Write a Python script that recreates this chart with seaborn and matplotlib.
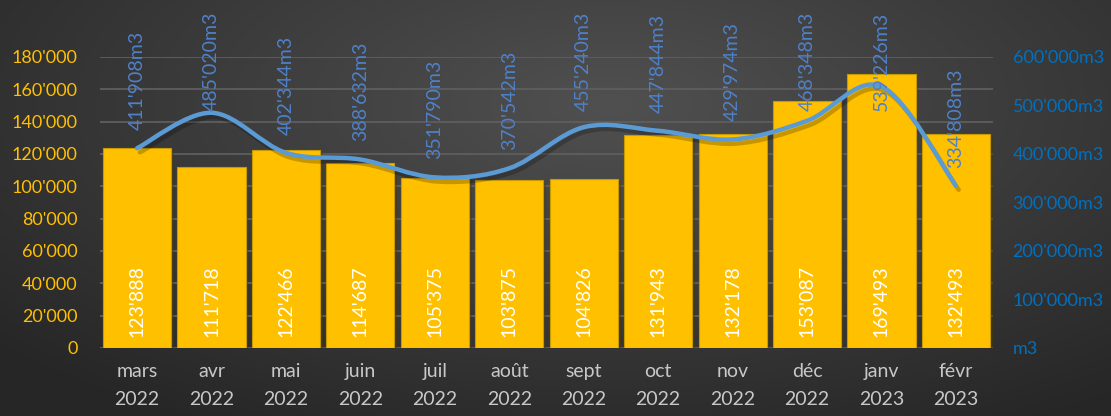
import numpy as np
import matplotlib
matplotlib.use("Agg")
import matplotlib.pyplot as plt
import matplotlib.patheffects as pe
from matplotlib.path import Path
from matplotlib.patches import PathPatch
import pandas as pd
import seaborn as sns

# data
months = ["mars\n2022", "avr\n2022", "mai\n2022", "juin\n2022", "juil\n2022", "août\n2022",
          "sept\n2022", "oct\n2022", "nov\n2022", "déc\n2022", "janv\n2023", "févr\n2023"]
bar_values = [123888, 111718, 122466, 114687, 105375, 103875, 104826, 131943, 132178, 153087, 169493, 132493]
volume_m3 = [411908, 485020, 402344, 388632, 351790, 370542, 455240, 447844, 429974, 468348, 539226, 334808]
left_ticks = list(range(0, 180001, 20000))
right_ticks = list(range(0, 600001, 100000))

sns.set_style("dark")
plt.rcParams['font.family'] = ['Lato', 'DejaVu Sans']


def swiss(v):
    return f"{int(v):,}".replace(",", "'")


fig = plt.figure(figsize=(11.11, 4.16), dpi=100)

# dark gradient background
bg = fig.add_axes([0, 0, 1, 1], zorder=-10)
gx, gy = np.meshgrid(np.linspace(0, 1, 400), np.linspace(0, 1, 200))
r = np.sqrt(((gx - 0.55) / 0.75) ** 2 + ((gy - 0.25) / 0.9) ** 2)
bg.imshow(np.clip(r, 0, 1), cmap=matplotlib.colors.LinearSegmentedColormap.from_list(
    "g", ["#505050", "#262626"]), aspect="auto", extent=[0, 1, 0, 1], origin="upper")
bg.axis("off")

ax = fig.add_axes([0.0899, 0.1635, 0.8040, 0.6995])
ax.patch.set_alpha(0)

df = pd.DataFrame({"mois": months, "valeur": bar_values})
sns.barplot(data=df, x="mois", y="valeur", color="#ffc000", saturation=1, width=0.915,
            edgecolor="#c99a00", linewidth=0.8, ax=ax, zorder=3)
for p in ax.patches:
    p.set_path_effects([pe.SimplePatchShadow(offset=(2, -2), alpha=0.45), pe.Normal()])

ax.set_ylim(0, 180000)
ax.set_xlim(-0.5, 11.5)
ax.set_yticks(left_ticks)
ax.set_yticklabels([swiss(v) for v in left_ticks], color="#ffc000", fontsize=13)
ax.tick_params(axis="y", length=0, pad=16)
ax.tick_params(axis="x", length=0, pad=11, colors="#c8c8c8", labelsize=14)
for lbl in ax.get_xticklabels():
    lbl.set_linespacing(1.75)
ax.set_xlabel("")
ax.set_ylabel("")
ax.grid(axis="y", color="#5e5e5e", linewidth=1.3, zorder=0)
ax.set_axisbelow(True)
for s in ax.spines.values():
    s.set_visible(False)

# bar value labels
for i, v in enumerate(bar_values):
    ax.text(i, 7000, swiss(v), rotation=90, ha="center", va="bottom", color="white",
            fontsize=14, zorder=5)

# secondary axis with smoothed line
ax2 = ax.twinx()
ax2.set_ylim(0, 600000)
ax2.set_yticks(right_ticks)
ax2.set_yticklabels(["m3" if v == 0 else swiss(v) + "m3" for v in right_ticks],
                    color="#0070c0", fontsize=13)
ax2.tick_params(axis="y", length=0, pad=14)
ax2.grid(False)
for s in ax2.spines.values():
    s.set_visible(False)

xs = np.arange(len(volume_m3), dtype=float)
ys = np.array(volume_m3, dtype=float)
verts = [(xs[0], ys[0])]
codes = [Path.MOVETO]
n = len(xs)
for i in range(n - 1):
    p0 = np.array([xs[max(i - 1, 0)], ys[max(i - 1, 0)]])
    p1 = np.array([xs[i], ys[i]])
    p2 = np.array([xs[i + 1], ys[i + 1]])
    p3 = np.array([xs[min(i + 2, n - 1)], ys[min(i + 2, n - 1)]])
    c1 = p1 + (p2 - p0) / 6
    c2 = p2 - (p3 - p1) / 6
    verts += [tuple(c1), tuple(c2), tuple(p2)]
    codes += [Path.CURVE4] * 3
curve = PathPatch(Path(verts, codes), facecolor="none", edgecolor="#5b9bd5", linewidth=3.2,
                  capstyle="round", zorder=6)
curve.set_path_effects([pe.SimpleLineShadow(offset=(2, -3), alpha=0.22), pe.Normal()])
ax2.add_patch(curve)

labels = []
for i, v in enumerate(volume_m3):
    t = ax2.annotate(swiss(v) + "m3", xy=(i, v), xytext=(0, 13), textcoords="offset points",
                     rotation=90, ha="center", va="bottom", color="#4f81c9", fontsize=14,
                     annotation_clip=False, zorder=7)
    labels.append(t)

# keep labels inside the chart area like the original
fig.canvas.draw()
limit = fig.bbox.height - 12
for t in labels:
    bb = t.get_window_extent()
    if bb.y1 > limit:
        dx, dy = t.xyann
        t.xyann = (dx, dy - (bb.y1 - limit) * 72 / fig.dpi)

fig.savefig("out.png", dpi=100)
